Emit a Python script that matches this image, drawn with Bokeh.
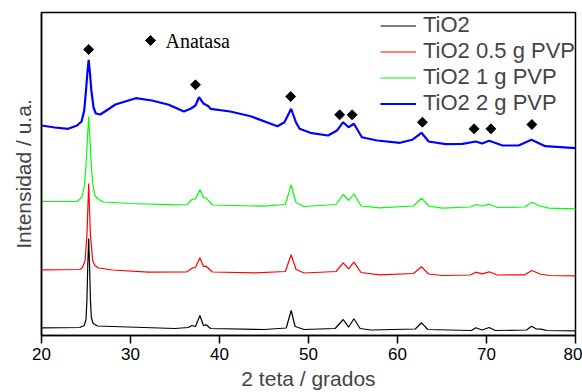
from bokeh.plotting import figure
from bokeh.models import Range1d, Legend, LegendItem, FixedTicker
from bokeh.core.properties import value
from bokeh.embed import file_html
from bokeh.resources import INLINE
import math

# ---- data (2theta in degrees, intensity in arbitrary units) ----
tio2_x = [20, 24.3, 24.8, 25.0, 25.1, 25.2, 25.3, 25.4, 25.5, 25.6, 25.8, 26.3, 28, 35, 36.5, 36.9, 37.3,
          37.8, 38.2, 38.5, 39, 45, 47.5, 48.05, 48.5, 49.5, 53, 53.9, 54.5, 55.1, 55.8, 57, 62, 62.7,
          63.4, 68.3, 68.8, 69.5, 70.3, 71, 74.5, 75.05, 75.6, 76.1, 76.8, 80]
tio2_y = [7.7, 8, 10, 16, 35, 70, 97, 70, 35, 18, 12, 9.5, 9, 7, 8, 10, 9,
          20, 10, 10.7, 7, 6, 7.5, 25, 9, 6, 7, 16, 8.3, 16.7, 7, 5.5, 6.5, 12.7,
          6, 5, 7.7, 5.5, 8, 5, 5.5, 9.3, 6.5, 6.3, 5, 4.7]

pvp05_x = [20, 24.3, 24.6, 24.9, 25.1, 25.2, 25.3, 25.4, 25.5, 25.75, 26.0, 26.4, 28, 32, 36.3, 36.9, 37.3,
           37.8, 38.2, 38.5, 39.2, 44, 47.4, 48.05, 48.6, 49.5, 53.1, 53.9, 54.5, 55.1, 55.9, 58, 61.8,
           62.7, 63.5, 65, 68.2, 68.8, 69.5, 70.3, 71.2, 74.3, 75.1, 76.0, 77, 80]
pvp05_y = [65.7, 66, 68, 75, 100, 125, 152, 125, 100, 75, 70, 67.5, 65.5, 63.3, 63.5, 67.3, 68,
           77.7, 69, 69.3, 63.5, 62.7, 64, 80.7, 66, 62.5, 64, 72.7, 66.7, 73.3, 63, 60.7, 62,
           68.7, 61.5, 60, 60.5, 63.3, 61.7, 63.7, 60.5, 60.7, 65, 61.5, 60, 59.7]

pvp1_x = [20, 24.0, 24.4, 24.6, 24.85, 25.0, 25.15, 25.3, 25.45, 25.6, 25.75, 26.0, 26.4, 27, 30, 35, 36.4,
          36.9, 37.3, 37.8, 38.2, 38.5, 39.2, 45, 47.4, 48.05, 48.6, 49.5, 53.1, 53.9, 54.5, 55.1, 55.9,
          58, 61.8, 62.7, 63.5, 65, 68.2, 68.8, 69.5, 70.3, 71.2, 74.3, 75.1, 76, 77, 80]
pvp1_y = [134, 134, 137, 140, 152, 170, 195, 219, 195, 170, 152, 140, 136, 133.5, 132, 130.7, 131,
          136, 136.5, 145.7, 138, 137.3, 130.5, 129.3, 131, 150.7, 133, 129, 131, 141, 135, 141.7, 129.5,
          127.7, 129.5, 137.3, 129.5, 127.3, 128.5, 131, 129.5, 131.3, 128, 128.5, 133.3, 129.5, 127.3, 126.7]

pvp2_x = [20, 21.5, 23, 24, 24.5, 24.8, 25.0, 25.15, 25.3, 25.45, 25.6, 25.85, 26.1, 26.6, 27.3, 28.3,
          30.6, 32.4, 34.3, 36.0, 36.8, 37.3, 37.7, 38.2, 38.8, 39.0, 41.2, 43.5, 46.5, 47.3, 48.05, 48.6,
          49.0, 50.2, 52.2, 53.2, 53.9, 54.5, 55.1, 56.0, 57.7, 60.3, 61.65, 62.7, 63.5, 65.4, 67.3, 68.8,
          69.5, 70.3, 71.8, 73.6, 75.05, 76.6, 80]
pvp2_y = [210, 208, 206.7, 210, 214, 225, 245, 262, 275.7, 262, 245, 228, 222, 221, 225, 231,
          237.3, 235, 230.7, 224, 227, 230, 238.3, 232, 229, 226.7, 224, 219.3, 209.3, 213.3, 226.7, 213,
          206.7, 202.7, 200, 205, 213.3, 208.3, 211.7, 198.3, 195, 192.7, 195.7, 202.7, 194, 191.3, 191.7, 194,
          192, 194.7, 190, 190, 195.7, 189.3, 187.3]

series_names = ["TiO2", "TiO2 0.5 g PVP", "TiO2 1 g PVP", "TiO2 2 g PVP"]
series_colors = ["#000000", "#ff0000", "#00ff00", "#0000ff"]

anatase_x = [25.3, 37.3, 48.0, 53.5, 54.9, 62.8, 68.6, 70.5, 75.1]
anatase_y = [286, 250.7, 239, 220.7, 220.7, 213.3, 206.7, 206.7, 211]
anatase_label = "Anatasa"
anatase_key_x = [32.25]
anatase_key_y = [295]

x_ticks = [20, 30, 40, 50, 60, 70, 80]

# ---- figure ----
p = figure(width=582, height=392, output_backend="svg", toolbar_location=None,
           x_range=Range1d(20, 80), y_range=Range1d(0, 323),
           min_border_left=41, min_border_right=7, min_border_top=12, min_border_bottom=57)
p.background_fill_color = "white"
p.border_fill_color = "white"
p.outline_line_color = "black"
p.outline_line_width = 1.5
p.grid.visible = False

p.xaxis.ticker = FixedTicker(ticks=x_ticks)
p.xaxis.axis_label = "2 teta / grados"
p.xaxis.axis_label_text_font = "Liberation Sans"
p.xaxis.axis_label_text_font_style = "normal"
p.xaxis.axis_label_text_font_size = "21px"
p.xaxis.axis_label_standoff = 4
p.xaxis.major_label_text_font = "Liberation Sans"
p.xaxis.major_label_text_font_size = "17px"
p.xaxis.major_label_text_color = "black"
p.xaxis.major_label_standoff = 4
p.xaxis.major_tick_out = 8
p.xaxis.major_tick_in = 0
p.xaxis.minor_tick_out = 0
p.xaxis.minor_tick_in = 0
p.xaxis.axis_line_width = 1.5
p.xaxis.major_tick_line_width = 1.5

p.yaxis.ticker = FixedTicker(ticks=[])
p.yaxis.axis_label = "Intensidad / u.a."
p.yaxis.axis_label_text_font = "Liberation Sans"
p.yaxis.axis_label_text_font_style = "normal"
p.yaxis.axis_label_text_font_size = "21px"
p.yaxis.axis_label_standoff = 7
p.yaxis.major_label_standoff = 0
p.yaxis.major_tick_out = 0
p.yaxis.major_tick_in = 0
p.yaxis.minor_tick_out = 0
p.yaxis.minor_tick_in = 0
p.yaxis.axis_line_width = 1.5

renderers = []
for xs, ys, c in zip([tio2_x, pvp05_x, pvp1_x, pvp2_x], [tio2_y, pvp05_y, pvp1_y, pvp2_y], series_colors):
    lw = 2.2 if c == "#0000ff" else 1.2
    r = p.line(xs, ys, line_color=c, line_width=lw)
    renderers.append(r)

p.scatter(anatase_x, anatase_y, marker="square", size=7, angle=math.pi / 4,
          fill_color="black", line_color="black")
p.scatter(anatase_key_x, anatase_key_y, marker="square", size=7, angle=math.pi / 4,
          fill_color="black", line_color="black")
p.text(x=[33.93], y=[anatase_key_y[0]], text=[anatase_label], text_font=value("Liberation Serif"),
       text_font_size="20px", text_baseline="middle", text_align="left", text_color="black")

items = [LegendItem(label=n, renderers=[r]) for n, r in zip(series_names, renderers)]
legend = Legend(items=items, location=(339, 219), border_line_color=None, background_fill_alpha=0,
                padding=0, margin=0, spacing=0, glyph_width=36, glyph_height=25, label_height=25,
                label_standoff=7, label_text_font="Liberation Sans", label_text_font_size="22px")
p.add_layout(legend, "center")

open("out.html", "w").write(file_html(p, INLINE))
